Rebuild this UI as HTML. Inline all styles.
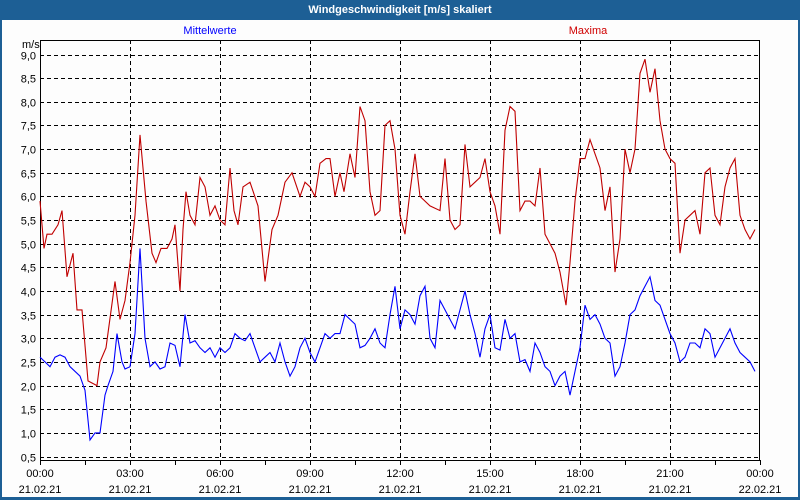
<!DOCTYPE html>
<html><head><meta charset="utf-8"><style>
body{margin:0;width:800px;height:500px;overflow:hidden;background:#fff}
svg{display:block}
text{font-family:"Liberation Sans",sans-serif;font-size:11px}
</style></head><body>
<svg id="s" width="800" height="500" xmlns="http://www.w3.org/2000/svg">
<rect x="0" y="0" width="800" height="500" fill="#1d5f95"/>
<rect x="2" y="20" width="796" height="477" fill="#fdfdfd"/>
<text x="400" y="13" text-anchor="middle" fill="#fff" font-weight="bold">Windgeschwindigkeit [m/s] skaliert</text>
<text x="210" y="34" text-anchor="middle" fill="#0000ff" font-size="10">Mittelwerte</text>
<text x="588" y="34" text-anchor="middle" fill="#d00000" font-size="10">Maxima</text>
<text x="22" y="48" fill="#000">m/s</text>
<g id="g"></g>
</svg>
<script>
const g=document.getElementById('g');const NS='http://www.w3.org/2000/svg';
function el(t,a,txt){const e=document.createElementNS(NS,t);for(const k in a)e.setAttribute(k,a[k]);if(txt)e.textContent=txt;g.appendChild(e);return e;}
const Y=v=>54.5+(9-v)*47.3;
for(let i=1;i<=18;i++){const v=i*0.5,y=Math.round(Y(v))+0.5;
el('line',{x1:40,x2:760,y1:y,y2:y,stroke:'#000','stroke-dasharray':'4,3'});
el('text',{x:36,y:y+4,'text-anchor':'end'},v.toFixed(1).replace('.',','));}
for(let x=130;x<760;x+=90)el('line',{x1:x+0.5,x2:x+0.5,y1:40,y2:460,stroke:'#000','stroke-dasharray':'4,3'});
el('rect',{x:40.5,y:40.5,width:719,height:420,fill:'none',stroke:'#000'});
const lab=['00:00','03:00','06:00','09:00','12:00','15:00','18:00','21:00','00:00'];
for(let i=0;i<=16;i++){const x=40.5+i*45;el('line',{x1:x,x2:x,y1:460,y2:465,stroke:'#000'});}
lab.forEach((l,i)=>{const x=40+i*90;el('text',{x:x,y:477,'text-anchor':'middle'},l);el('text',{x:x,y:493,'text-anchor':'middle'},i==8?'22.02.21':'21.02.21');});
const red=[40,5.9,44,4.9,47,5.2,52,5.2,58,5.4,62,5.7,67,4.3,73,4.8,77,3.6,82,3.6,88,2.1,97,2.0,100,2.5,106,2.8,115,4.2,120,3.4,125,3.8,130,4.6,135,5.6,140,7.3,146,5.9,152,4.8,156,4.6,161,4.9,167,4.9,172,5.1,175,5.4,180,4.0,183,5.3,186,6.1,190,5.6,195,5.4,200,6.4,205,6.2,210,5.6,215,5.8,220,5.5,225,5.4,230,6.6,234,5.7,238,5.4,243,6.2,250,6.3,258,5.8,265,4.2,272,5.3,278,5.6,285,6.3,292,6.5,300,6.0,305,6.3,310,6.2,315,6.0,320,6.7,326,6.8,330,6.8,335,6.0,340,6.5,344,6.1,350,6.9,355,6.4,360,7.9,365,7.6,370,6.1,375,5.6,380,5.7,385,7.5,390,7.6,395,7.0,400,5.6,405,5.2,410,6.1,415,6.9,420,6.0,430,5.8,440,5.7,445,6.8,450,5.5,455,5.3,460,5.4,465,7.1,470,6.2,475,6.3,480,6.4,485,6.8,490,6.1,495,5.8,500,5.2,505,7.4,510,7.9,515,7.8,520,5.7,525,5.9,530,5.9,535,5.8,540,6.6,545,5.2,555,4.8,560,4.4,566,3.7,570,4.6,575,5.9,580,6.8,585,6.8,590,7.2,595,6.9,600,6.6,605,5.7,610,6.2,615,4.4,620,5.1,625,7.0,630,6.5,635,7.0,640,8.6,645,8.9,650,8.2,655,8.7,660,7.6,665,7.0,670,6.8,675,6.7,680,4.8,685,5.5,690,5.6,695,5.7,700,5.2,705,6.5,710,6.6,715,5.6,720,5.4,725,6.2,730,6.6,735,6.8,740,5.6,745,5.3,750,5.1,755,5.3];
const blue=[40,2.6,45,2.5,50,2.4,55,2.6,60,2.65,65,2.6,70,2.4,80,2.2,85,1.9,90,0.85,95,1.0,100,1.0,105,1.8,108,2.0,113,2.3,117,3.1,122,2.5,125,2.35,130,2.4,135,3.1,140,4.9,145,3.0,150,2.4,155,2.5,160,2.35,165,2.4,170,2.9,175,2.85,180,2.4,185,3.5,190,2.9,195,2.95,200,2.8,205,2.7,210,2.8,215,2.6,220,2.8,225,2.7,230,2.8,235,3.1,240,3.0,245,2.95,250,3.1,255,2.8,260,2.5,265,2.6,270,2.7,275,2.5,280,2.9,285,2.5,290,2.2,295,2.4,300,2.8,305,3.0,310,2.7,315,2.5,320,2.8,325,3.1,330,3.0,335,3.1,340,3.1,345,3.5,350,3.4,355,3.3,360,2.8,365,2.85,370,3.0,375,3.2,380,2.9,385,2.8,390,3.5,395,4.1,400,3.2,405,3.6,410,3.5,415,3.3,420,3.9,425,4.1,430,3.0,435,2.8,440,3.8,445,3.6,450,3.4,455,3.2,460,3.6,465,4.0,470,3.5,475,3.1,480,2.6,485,3.2,490,3.5,495,2.8,500,2.75,505,3.4,510,3.0,515,3.1,520,2.5,525,2.55,530,2.3,535,2.9,540,2.7,545,2.4,550,2.3,555,2.0,560,2.2,565,2.3,570,1.8,575,2.3,580,2.8,585,3.7,590,3.4,595,3.5,600,3.3,605,3.0,610,2.9,615,2.2,620,2.4,625,2.9,630,3.5,635,3.6,640,3.9,645,4.1,650,4.3,655,3.8,660,3.7,665,3.4,670,3.1,675,2.9,680,2.5,685,2.6,690,2.9,695,2.9,700,2.8,705,3.2,710,3.1,715,2.6,720,2.8,725,3.0,730,3.2,735,2.9,740,2.7,745,2.6,750,2.5,755,2.3];
function pl(a,c){let p=[];for(let i=0;i<a.length;i+=2)p.push(a[i]+','+Y(a[i+1]).toFixed(1));el('polyline',{points:p.join(' '),fill:'none',stroke:c,'stroke-width':1.1});}
pl(red,'#c00000');pl(blue,'#0000ff');
</script>
</body></html>
